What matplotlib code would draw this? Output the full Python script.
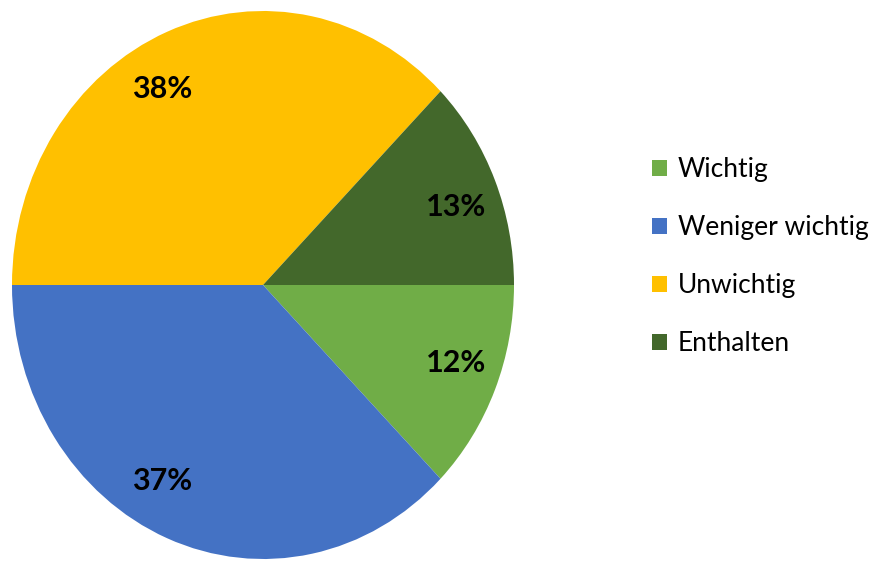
import numpy as np
import matplotlib.pyplot as plt

categories = ['Wichtig', 'Weniger wichtig', 'Unwichtig', 'Enthalten']
# slice sizes as drawn in the picture; printed labels as shown
shares = [12.5, 37.5, 37.5, 12.5]
pct_labels = ['12%', '37%', '38%', '13%']
colors = ['#70AD47', '#4472C4', '#FFC000', '#43682B']

plt.rcParams['font.family'] = ['Lato', 'DejaVu Sans']

fig = plt.figure(figsize=(8.74, 5.61), dpi=100)
# the original pie is slightly stretched vertically (ellipse)
ax = fig.add_axes([12 / 874, 2 / 561, 502 / 874, 548 / 561])

wedges, texts = ax.pie(
    shares, colors=colors, startangle=0, counterclock=False, radius=1,
    labels=pct_labels, labeldistance=0.81,
    textprops={'fontsize': 22, 'fontweight': 'bold', 'color': 'black'},
    wedgeprops={'linewidth': 0})
ax.set_aspect('auto')
ax.set_xlim(-1, 1)
ax.set_ylim(-1, 1)
ax.axis('off')

# labels sit a little closer to the horizontal axis than the slice middle
for w, t in zip(wedges, texts):
    mid = np.deg2rad((w.theta1 + w.theta2) / 2)
    x, y = np.cos(mid), np.sin(mid)
    ang = np.arctan2(abs(y), abs(x)) * 0.9
    r = 0.82
    t.set_position((np.sign(x) * r * np.cos(ang), np.sign(y) * r * np.sin(ang)))
    t.set_horizontalalignment('center')
    t.set_verticalalignment('center')

fig.legend(wedges, categories, loc='upper left', bbox_to_anchor=(652 / 874, 1 - 157 / 561),
           frameon=False, fontsize=19, handlelength=0.55, handleheight=0.55,
           handletextpad=0.42, labelspacing=1.25, borderaxespad=0, borderpad=0)

fig.savefig('out.png', dpi=100)
